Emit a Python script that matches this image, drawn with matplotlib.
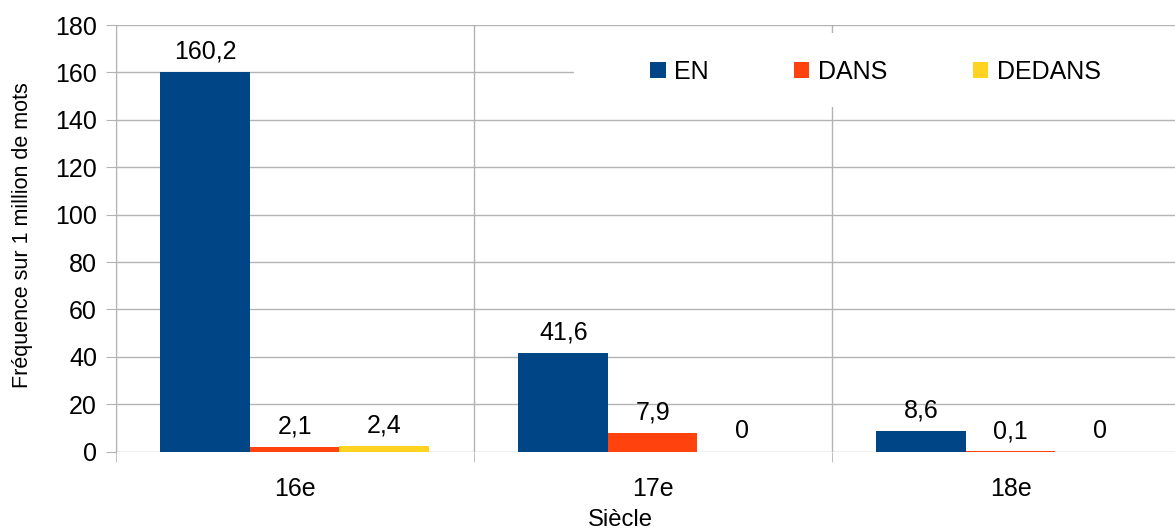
import numpy as np
import matplotlib
matplotlib.use("Agg")
import matplotlib.pyplot as plt
from matplotlib.patches import Patch, Rectangle

plt.rcParams['font.family'] = ['Liberation Sans', 'DejaVu Sans']

# Data
siecles = ['16e', '17e', '18e']
series = ['EN', 'DANS', 'DEDANS']
en = [160.2, 41.6, 8.6]
dans = [2.1, 7.9, 0.1]
dedans = [2.4, 0, 0]
colors = ['#004586', '#ff420e', '#ffd320']

grid_color = '#b3b3b3'
fs = 18

fig = plt.figure(figsize=(11.75, 5.32), dpi=100)
ax = fig.add_axes([0.0985, 0.151, 0.914, 0.802])

x = np.arange(len(siecles)) + 0.5
width = 0.25
for i, (vals, col) in enumerate(zip([en, dans, dedans], colors)):
    bars = ax.bar(x + (i - 1) * width, vals, width, color=col, zorder=2)
    labels = [f"{v:g}".replace('.', ',') for v in vals]
    ax.bar_label(bars, labels=labels, padding=6, fontsize=fs)

ax.set_xlim(0, 3)
ax.set_ylim(0, 180)
ax.set_yticks(np.arange(0, 181, 20))
ax.set_xticks(x)
ax.set_xticklabels(siecles)
ax.set_xticks(np.arange(0, 4), minor=True)

ax.tick_params(axis='y', length=7.5, pad=6, color=grid_color, labelsize=fs)
ax.tick_params(axis='x', which='major', length=0, pad=18, labelsize=fs)
ax.tick_params(axis='x', which='minor', length=7.5, color=grid_color)

ax.set_axisbelow(True)
ax.grid(axis='y', color=grid_color, linewidth=1)
ax.grid(axis='x', which='minor', color=grid_color, linewidth=1)

for s in ['top', 'right', 'bottom']:
    ax.spines[s].set_visible(False)
ax.spines['left'].set_color(grid_color)

# white box behind the legend
ax.add_patch(Rectangle((0.4267, 0.808), 0.6, 0.173, transform=ax.transAxes,
                       facecolor='white', edgecolor='none', zorder=1.5, clip_on=False))

handles = [Patch(facecolor=c, edgecolor='none') for c in colors]
ax.legend(handles, series, loc='center left', bbox_to_anchor=(0.4975, 0.89),
          ncol=3, frameon=False, borderpad=0, borderaxespad=0, fontsize=fs,
          handlelength=0.62, handleheight=0.62, handletextpad=0.35,
          columnspacing=3.4)

fig.text(23 / 1175, 1 - 235 / 532, 'Fréquence sur 1 million de mots',
         rotation=90, ha='center', va='center', fontsize=15.5)
fig.text(620 / 1175, 1 - 526 / 532, 'Siècle', ha='center', va='baseline', fontsize=17.2)

fig.savefig('out.png', dpi=100)
